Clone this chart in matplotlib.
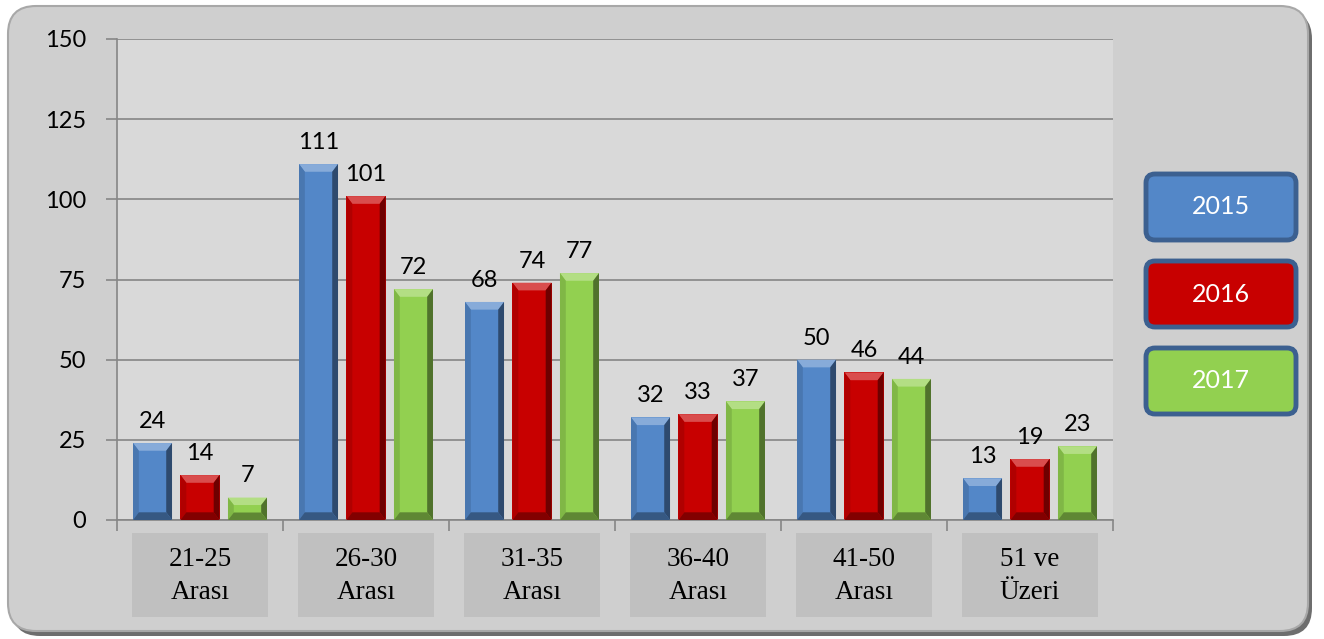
import numpy as np
import matplotlib.pyplot as plt
import matplotlib.colors as mcolors
from matplotlib.patches import FancyBboxPatch, Rectangle, Polygon
from matplotlib.transforms import IdentityTransform, blended_transform_factory

# data
categories = ["21-25\nArası", "26-30\nArası", "31-35\nArası", "36-40\nArası", "41-50\nArası", "51 ve\nÜzeri"]
years = ["2015", "2016", "2017"]
v2015 = [24, 111, 68, 32, 50, 13]
v2016 = [14, 101, 74, 33, 46, 19]
v2017 = [7, 72, 77, 37, 44, 23]
yticks = [0, 25, 50, 75, 100, 125, 150]

colors = ["#5387c8", "#c80000", "#92d050"]
sans = ["Lato", "DejaVu Sans"]
serif = ["Liberation Serif", "DejaVu Serif"]


def shade(c, f):
    r = np.array(mcolors.to_rgb(c))
    if f > 0:
        r = r + (1 - r) * f
    else:
        r = r * (1 + f)
    return tuple(np.clip(r, 0, 1))


def bevel(ax, x, w, h, c, dx=0.035, dy=2.4):
    x0, x1 = x - w / 2, x + w / 2
    dy = min(dy, h / 3)
    ax.add_patch(Polygon([(x0, h), (x1, h), (x1 - dx, h - dy), (x0 + dx, h - dy)],
                         closed=True, color=shade(c, 0.3), lw=0, zorder=3))
    ax.add_patch(Polygon([(x0, 0), (x0, h), (x0 + dx, h - dy), (x0 + dx, dy)],
                         closed=True, color=shade(c, -0.12), lw=0, zorder=3))
    ax.add_patch(Polygon([(x1, 0), (x1, h), (x1 - dx, h - dy), (x1 - dx, dy)],
                         closed=True, color=shade(c, -0.45), lw=0, zorder=3))
    ax.add_patch(Polygon([(x0, 0), (x1, 0), (x1 - dx, dy), (x0 + dx, dy)],
                         closed=True, color=shade(c, -0.35), lw=0, zorder=3))


fig = plt.figure(figsize=(13.24, 6.39), dpi=100)
fig.patch.set_facecolor("white")

# outer rounded frame with shadow
px = IdentityTransform()
fig.patches.append(FancyBboxPatch((12, 3), 1300, 625, boxstyle="round,pad=0,rounding_size=28",
                                  transform=px, facecolor="#6e6e6e", edgecolor="none", zorder=-3))
fig.patches.append(FancyBboxPatch((8, 8), 1300, 625, boxstyle="round,pad=0,rounding_size=28",
                                  transform=px, facecolor="#cfcfcf", edgecolor="#a8a8a8",
                                  lw=1.5, zorder=-2))

ax = fig.add_axes([117 / 1324, 1 - 520 / 639, (1113 - 117) / 1324, 481 / 639])
ax.set_facecolor("#d9d9d9")

x = np.arange(len(categories))
offsets = [-0.286, 0, 0.286]
width = 0.235
for vals, off, c in zip([v2015, v2016, v2017], offsets, colors):
    ax.bar(x + off, vals, width, color=c, zorder=2)
    for xi, v in zip(x + off, vals):
        bevel(ax, xi, width, v, c)
        ax.annotate(str(v), (xi, v), xytext=(0, 8), textcoords="offset points",
                    ha="center", va="bottom", fontsize=17, family=sans)

ax.set_xlim(-0.5, len(categories) - 0.5)
ax.set_ylim(0, 150)
ax.set_yticks(yticks)
ax.set_yticklabels([str(t) for t in yticks], fontsize=17, family=sans)
ax.yaxis.grid(True, color="#868686", lw=1.2)
ax.set_axisbelow(True)
ax.set_xticks(np.arange(len(categories) + 1) - 0.5)
ax.set_xticklabels([])
ax.tick_params(axis="both", direction="out", color="#868686", length=8, width=1.2)
ax.tick_params(axis="y", pad=14)
for s in ["top", "right"]:
    ax.spines[s].set_visible(False)
for s in ["left", "bottom"]:
    ax.spines[s].set_color("#868686")
    ax.spines[s].set_linewidth(1.2)

# category label boxes
tr = blended_transform_factory(ax.transData, ax.transAxes)
for xi, lab in zip(x, categories):
    ax.add_patch(Rectangle((xi - 0.41, -0.2017), 0.82, 0.175, transform=tr,
                           facecolor="#c0c0c0", edgecolor="none", clip_on=False))
    ax.text(xi, -0.116, lab, transform=tr, ha="center", va="center",
            fontsize=19.5, family=serif, linespacing=1.4)

# legend boxes
ys = [399, 312, 225]
for yr, c, yb in zip(years, colors, ys):
    fig.patches.append(FancyBboxPatch((1146, yb), 150, 66, boxstyle="round,pad=0,rounding_size=9",
                                      transform=px, facecolor=c, edgecolor="#3c6090", lw=3.5, zorder=2))
    fig.text((1146 + 75) / 1324, (yb + 33) / 639, yr, ha="center", va="center",
             color="white", fontsize=18, family=sans, zorder=3)

fig.savefig("out.png", dpi=100)
